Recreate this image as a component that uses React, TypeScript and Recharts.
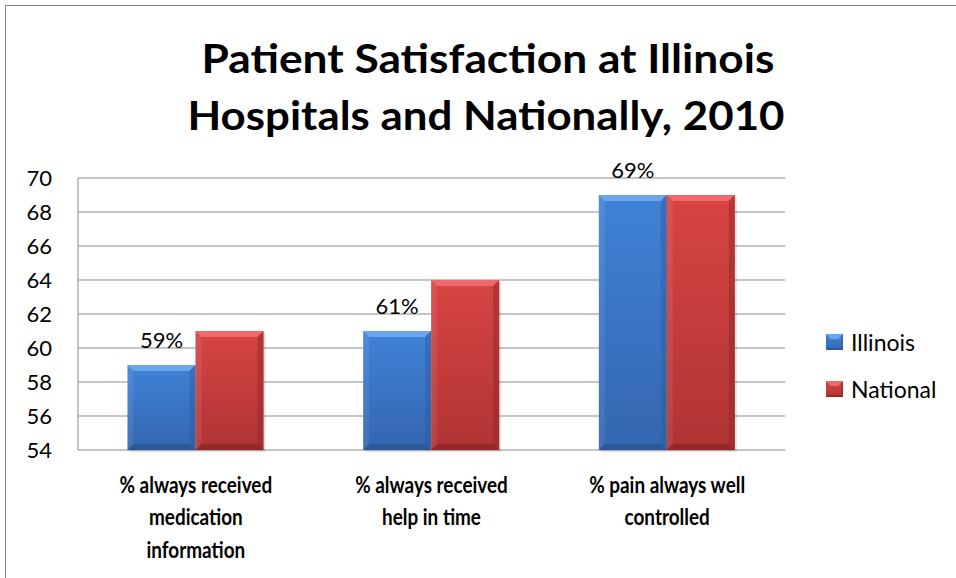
import React from 'react';
import { BarChart, Bar, XAxis, YAxis, CartesianGrid, Legend, LabelList } from 'recharts';

// Patient satisfaction survey, 2010 (percent of patients)
const categories = [
  '% always received\nmedication\ninformation',
  '% always received\nhelp in time',
  '% pain always well\ncontrolled',
];
const illinois = [59, 61, 69];
const national = [61, 64, 69];
const yTicks = [54, 56, 58, 60, 62, 64, 66, 68, 70];
const titleLines = ['Patient Satisfaction at Illinois', 'Hospitals and Nationally, 2010'];

const FONT = 'Lato, "Open Sans", sans-serif';

const BLUE = { top: '#3f82d6', bottom: '#3466b0', light: '#6aa6ee', edge: '#2c5a98', shade: '#264f88', id: 'blueGrad' };
const RED = { top: '#d84444', bottom: '#b03434', light: '#ee6a6a', edge: '#8e2626', shade: '#7e2121', id: 'redGrad' };

const data = categories.map((name, i) => ({ name, illinois: illinois[i], national: national[i] }));

function BevelBar(props: any) {
  const { x, y, width, height, palette } = props;
  if (!width || !height) return null;
  const b = Math.min(6, height / 2);
  const r = x + width;
  const btm = y + height;
  return (
    <g>
      <rect x={x + 2} y={y + 2} width={width} height={height} fill="#000" opacity={0.12} />
      <rect x={x} y={y} width={width} height={height} fill={`url(#${palette.id})`} />
      <polygon points={`${x},${y} ${r},${y} ${r - b},${y + b} ${x + b},${y + b}`} fill={palette.light} />
      <polygon points={`${x},${y} ${x + b},${y + b} ${x + b},${btm - b} ${x},${btm}`} fill="#ffffff" opacity={0.08} />
      <polygon points={`${r},${y} ${r},${btm} ${r - b},${btm - b} ${r - b},${y + b}`} fill={palette.edge} opacity={0.45} />
      <polygon points={`${x},${btm} ${x + b},${btm - b} ${r - b},${btm - b} ${r},${btm}`} fill={palette.shade} opacity={0.6} />
    </g>
  );
}

function CategoryTick({ x, y, payload }: any) {
  const lines = String(payload.value).split('\n');
  return (
    <g transform={`translate(${x},${y}) scale(0.86,1)`}>
      {lines.map((line, i) => (
        <text
          key={i}
          x={0}
          y={43 + i * 32.5}
          textAnchor="middle"
          fontFamily={FONT}
          fontWeight="bold"
          fontSize={22}
          fill="#000"
        >
          {line}
        </text>
      ))}
    </g>
  );
}

function LegendIcon({ palette }: any) {
  return (
    <svg width={17} height={16} style={{ display: 'block' }}>
      <defs>
        <linearGradient id={`lg-${palette.id}`} x1="0" y1="0" x2="0" y2="1">
          <stop offset="0%" stopColor={palette.top} />
          <stop offset="100%" stopColor={palette.bottom} />
        </linearGradient>
      </defs>
      <rect x={0} y={0} width={17} height={16} fill={`url(#lg-${palette.id})`} />
      <polygon points="0,0 17,0 12,5 5,5" fill={palette.light} />
      <polygon points="17,0 17,16 15,14 15,2" fill={palette.edge} opacity={0.5} />
      <polygon points="0,16 2,14 15,14 17,16" fill={palette.shade} opacity={0.6} />
    </svg>
  );
}

function ChartLegend() {
  const items = [
    { name: 'Illinois', palette: BLUE },
    { name: 'National', palette: RED },
  ];
  return (
    <div style={{ fontFamily: FONT, fontSize: 23, color: '#000' }}>
      {items.map((it) => (
        <div key={it.name} style={{ display: 'flex', alignItems: 'center', height: 47 }}>
          <LegendIcon palette={it.palette} />
          <span style={{ marginLeft: 8 }}>{it.name}</span>
        </div>
      ))}
    </div>
  );
}

export default function App() {
  return (
    <div style={{ position: 'absolute', left: 0, top: 0, width: 956, height: 578, background: '#fff', overflow: 'hidden' }}>
      <div
        style={{
          position: 'absolute',
          left: 5,
          top: 5,
          width: 960,
          height: 600,
          borderLeft: '1px solid #888',
          borderTop: '1px solid #888',
        }}
      />
      <BarChart
        width={956}
        height={578}
        data={data}
        margin={{ top: 178, right: 171, bottom: 0, left: 0 }}
        barCategoryGap="21%"
        barGap={0}
      >
        <defs>
          {[BLUE, RED].map((p) => (
            <linearGradient key={p.id} id={p.id} x1="0" y1="0" x2="0" y2="1">
              <stop offset="0%" stopColor={p.top} />
              <stop offset="100%" stopColor={p.bottom} />
            </linearGradient>
          ))}
        </defs>
        <CartesianGrid vertical={false} stroke="#8c8c8c" />
        <XAxis
          dataKey="name"
          height={128}
          axisLine={false}
          tickLine={false}
          tickSize={0}
          tickMargin={0}
          interval={0}
          tick={<CategoryTick />}
        />
        <YAxis
          width={78}
          domain={[54, 70]}
          ticks={yTicks}
          interval={0}
          tickLine={false}
          tickSize={6}
          tickMargin={20}
          axisLine={{ stroke: '#8c8c8c' }}
          tick={{ fontFamily: FONT, fontSize: 22, fill: '#000' }}
        />
        <Legend
          layout="vertical"
          align="center"
          verticalAlign="middle"
          wrapperStyle={{ left: 826, top: 318, width: 130 }}
          content={() => <ChartLegend />}
        />
        <Bar
          dataKey="illinois"
          name="Illinois"
          isAnimationActive={false}
          shape={(p: any) => <BevelBar {...p} palette={BLUE} />}
        >
          <LabelList
            dataKey="illinois"
            position="top"
            offset={17}
            formatter={(v: any) => `${v}%`}
            fill="#000"
            fontFamily={FONT}
            fontSize={22}
          />
        </Bar>
        <Bar
          dataKey="national"
          name="National"
          isAnimationActive={false}
          shape={(p: any) => <BevelBar {...p} palette={RED} />}
        />
      </BarChart>
      <svg width={956} height={160} style={{ position: 'absolute', left: 0, top: 0, pointerEvents: 'none' }}>
        <text x={488} y={73} textAnchor="middle" fontFamily={FONT} fontWeight="bold" fontSize={40} textLength={573} lengthAdjust="spacingAndGlyphs">
          {titleLines[0]}
        </text>
        <text x={486} y={130} textAnchor="middle" fontFamily={FONT} fontWeight="bold" fontSize={40} textLength={597} lengthAdjust="spacingAndGlyphs">
          {titleLines[1]}
        </text>
      </svg>
    </div>
  );
}
